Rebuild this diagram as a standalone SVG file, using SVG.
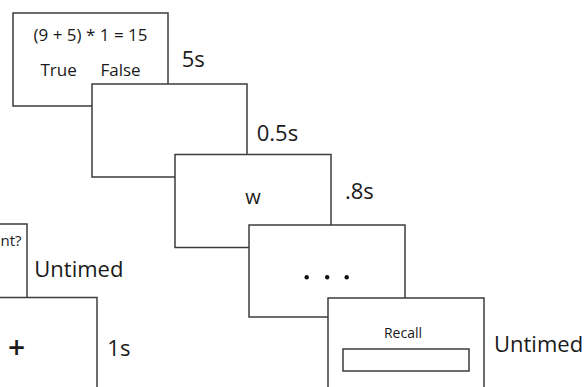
<svg xmlns="http://www.w3.org/2000/svg" width="584" height="387" viewBox="0 0 584 387">
<style>
.box{fill:#fff;stroke:#3c3c3c;stroke-width:1.5}
text{font-family:"Open Sans","Noto Sans","DejaVu Sans",sans-serif;fill:#1a1a1a}
.q{font-size:17px}
.lbl{font-size:22px}
</style>
<rect width="584" height="387" fill="#fff"/>
<g id="screen-math">
<rect class="box" x="13" y="13" width="155" height="93"/>
<text class="q" x="90.5" y="40.7" text-anchor="middle">(9 + 5) * 1 = 15</text>
<text class="q" x="40.5" y="76">True</text>
<text class="q" x="100.5" y="76">False</text>
</g>
<g id="screen-blank">
<rect class="box" x="92" y="84" width="155" height="93"/>
</g>
<g id="screen-word">
<rect class="box" x="175" y="154.5" width="156" height="93"/>
<text x="253" y="203.5" text-anchor="middle" font-size="20">w</text>
</g>
<g id="screen-dots">
<rect class="box" x="249" y="225" width="156" height="92"/>
<circle cx="306.7" cy="277.3" r="2.2" fill="#111"/>
<circle cx="327.2" cy="277.3" r="2.2" fill="#111"/>
<circle cx="346.7" cy="277.3" r="2.2" fill="#111"/>
</g>
<g id="screen-recall">
<rect class="box" x="328" y="298" width="156" height="93"/>
<text x="403" y="338" text-anchor="middle" font-size="14">Recall</text>
<rect class="box" x="343" y="349" width="126" height="22"/>
</g>
<g id="screen-question">
<rect class="box" x="-128" y="224" width="155" height="93"/>
<text x="0.5" y="246" font-size="15">nt?</text>
</g>
<g id="screen-fixation">
<rect class="box" x="-58" y="297.5" width="155" height="93"/>
<text x="16.7" y="358" text-anchor="middle" font-size="30" font-weight="600">+</text>
</g>
<g id="labels">
<text class="lbl" x="181.7" y="66.7">5s</text>
<text class="lbl" x="256.7" y="140.7">0.5s</text>
<text class="lbl" x="345" y="198.5">.8s</text>
<text class="lbl" x="34.3" y="276.7">Untimed</text>
<text class="lbl" x="107.3" y="355.7">1s</text>
<text class="lbl" x="494" y="352.3">Untimed</text>
</g>
</svg>
